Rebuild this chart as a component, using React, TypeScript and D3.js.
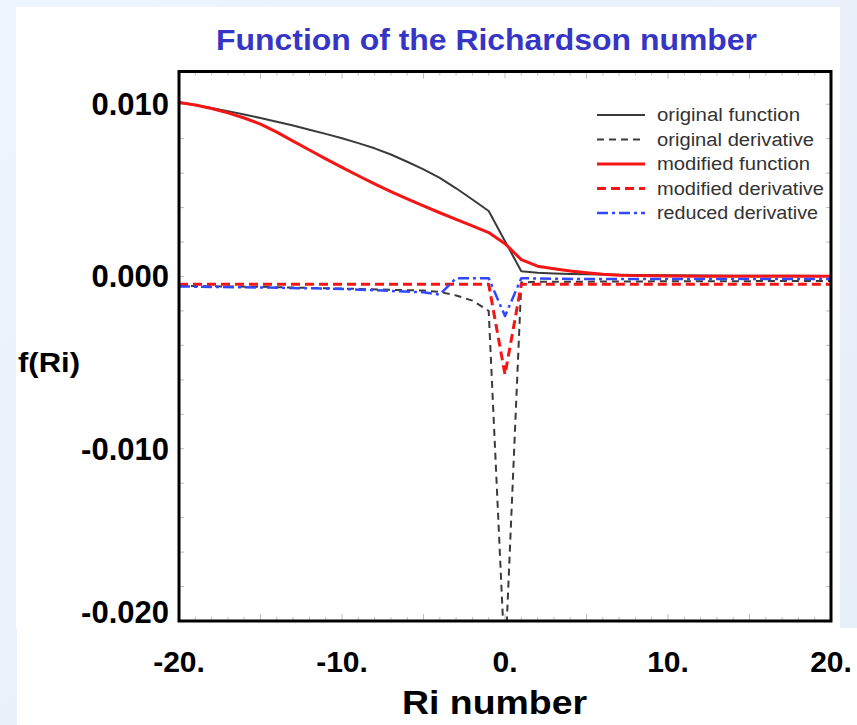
import React from 'react';
import * as d3 from 'd3';

// Richardson number sample points for the stability functions
const riFunc = [-20, -19, -18, -17, -16, -15, -14, -13, -12, -11, -10, -9, -8, -7, -6, -5, -4, -3, -2, -1, 0, 1, 2, 3, 4, 5, 6, 7, 8, 10, 12, 14, 16, 18, 20];
const originalFunction = [0.01012, 0.00996, 0.00978, 0.0096, 0.0094, 0.0092, 0.00898, 0.00876, 0.00852, 0.00828, 0.00802, 0.00774, 0.00744, 0.00708, 0.00666, 0.00622, 0.00572, 0.00512, 0.00447, 0.0038, 0.00205, 0.0003, 0.00022, 0.00018, 0.00015, 0.00013, 0.00011, 0.0001, 0.00009, 0.00007, 0.00006, 0.00005, 0.00004, 0.00004, 0.00003];
const modifiedFunction = [0.0101, 0.00995, 0.00975, 0.0095, 0.0092, 0.00885, 0.00838, 0.00786, 0.00734, 0.00683, 0.00633, 0.00585, 0.00538, 0.00493, 0.0045, 0.0041, 0.0037, 0.00332, 0.00294, 0.00255, 0.0019, 0.00098, 0.0006, 0.00045, 0.00032, 0.00022, 0.00013, 0.00007, 0.00005, 0.00003, 0.00002, 0.00002, 0.00001, 0.00001, 0.00001];

// Richardson number sample points for the derivatives
const riDeriv = [-20, -15, -10, -5, -4, -3, -2, -1, 0, 1, 2, 5, 10, 15, 20];
const originalDerivative = [-0.00055, -0.0006, -0.0007, -0.00082, -0.0009, -0.0011, -0.0014, -0.002, -0.0225, -0.00035, -0.0003, -0.0003, -0.00028, -0.00027, -0.00026];
const modifiedDerivative = [-0.00045, -0.00045, -0.00045, -0.00045, -0.00045, -0.00045, -0.00045, -0.00045, -0.0057, -0.00045, -0.00045, -0.00045, -0.00045, -0.00045, -0.00045];
const reducedDerivative = [-0.00058, -0.00064, -0.00072, -0.00092, -0.00105, -0.0001, -0.0001, -0.0001, -0.0023, -0.0001, -0.00012, -0.00015, -0.00015, -0.00015, -0.00015];

const xTicks = [-20, -10, 0, 10, 20];
const xTickLabels = ['-20.', '-10.', '0.', '10.', '20.'];
const yTicks = [0.01, 0, -0.01, -0.02];
const yTickLabels = ['0.010', '0.000', '-0.010', '-0.020'];

const legendLabels = ['original function', 'original derivative', 'modified function', 'modified derivative', 'reduced derivative'];
const legendWidths = [143, 157, 153, 167, 161];

const FONT = '"Liberation Sans", Arial, Helvetica, sans-serif';

export default function App() {
  const x = d3.scaleLinear().domain([-20, 20]).range([179, 831]);
  const y = d3.scaleLinear().domain([-0.02, 0.0119]).range([621, 71.5]);

  const path = (xs: number[], ys: number[]) =>
    d3.line<number>().x((_, i) => x(xs[i])).y((d) => y(d))(ys) || '';

  const styles = [
    { xs: riFunc, ys: originalFunction, stroke: '#3a3a3a', width: 2, dash: undefined as string | undefined },
    { xs: riDeriv, ys: originalDerivative, stroke: '#3a3a3a', width: 2, dash: '7 5' },
    { xs: riFunc, ys: modifiedFunction, stroke: '#f51515', width: 3, dash: undefined },
    { xs: riDeriv, ys: modifiedDerivative, stroke: '#f51515', width: 3, dash: '9 5' },
    { xs: riDeriv, ys: reducedDerivative, stroke: '#3048ff', width: 2.5, dash: '11 4 3 4' },
  ];

  const minorX = d3.range(-20, 21, 1);
  const minorY = d3.range(-0.02, 0.0119, 0.002);
  const [x0, x1] = x.range();
  const [yb, yt] = y.range();

  return (
    <svg width={857} height={725} style={{ position: 'absolute', left: 0, top: 0, display: 'block' }} fontFamily={FONT}>
      <defs>
        <linearGradient id="bg" x1="0" y1="0" x2="1" y2="1">
          <stop offset="0" stopColor="#eef4fd" />
          <stop offset="1" stopColor="#e6eefa" />
        </linearGradient>
        <clipPath id="plot">
          <rect x={x0} y={yt} width={x1 - x0} height={yb - yt} />
        </clipPath>
      </defs>
      <rect x={0} y={0} width={857} height={725} fill="url(#bg)" />
      <rect x={16} y={7} width={824} height={621} fill="#ffffff" />
      <rect x={17} y={628} width={840} height={97} fill="#ffffff" />

      <text x={486.5} y={50} textAnchor="middle" fontSize={30} fontWeight="bold" fill="#3535c6"
        textLength={541} lengthAdjust="spacingAndGlyphs">Function of the Richardson number</text>

      {/* inner tick marks */}
      <g stroke="#bdbdbd" strokeWidth={1}>
        {minorX.map((v) => {
          const len = v % 5 === 0 ? 6 : 3;
          return (
            <g key={'mx' + v}>
              <line x1={x(v)} x2={x(v)} y1={yt + 1} y2={yt + 1 + len} />
              <line x1={x(v)} x2={x(v)} y1={yb - 1} y2={yb - 1 - len} />
            </g>
          );
        })}
        {minorY.map((v, i) => (
          <g key={'my' + i}>
            <line x1={x0 + 1} x2={x0 + 5} y1={y(v)} y2={y(v)} />
            <line x1={x1 - 1} x2={x1 - 5} y1={y(v)} y2={y(v)} />
          </g>
        ))}
      </g>

      <g clipPath="url(#plot)" fill="none" strokeLinejoin="round">
        {styles.map((s, i) => (
          <path key={i} d={path(s.xs, s.ys)} stroke={s.stroke} strokeWidth={s.width} strokeDasharray={s.dash} />
        ))}
      </g>

      {/* legend */}
      <g>
        {legendLabels.map((lab, i) => {
          const cy = 115 + i * 24.5;
          const s = styles[i];
          return (
            <g key={lab}>
              <line x1={597} x2={645} y1={cy} y2={cy} stroke={s.stroke} strokeWidth={s.width} strokeDasharray={s.dash} />
              <text x={657} y={cy + 6} fontSize={18} fill="#333" textLength={legendWidths[i]} lengthAdjust="spacingAndGlyphs">{lab}</text>
            </g>
          );
        })}
      </g>

      <rect x={x0} y={yt} width={x1 - x0} height={yb - yt} fill="none" stroke="#000" strokeWidth={3} />

      {yTicks.map((v, i) => (
        <text key={'yl' + v} x={169} y={Math.min(y(v) + 11, 623)} textAnchor="end" fontSize={31} fontWeight="bold" fill="#000">
          {yTickLabels[i]}
        </text>
      ))}
      {xTicks.map((v, i) => (
        <text key={'xl' + v} x={x(v)} y={672} textAnchor="middle" fontSize={30} fontWeight="bold" fill="#000">
          {xTickLabels[i]}
        </text>
      ))}

      <text x={18} y={372} fontSize={28} fontWeight="bold" fill="#000" textLength={62} lengthAdjust="spacingAndGlyphs">f(Ri)</text>
      <text x={494.5} y={714} textAnchor="middle" fontSize={33} fontWeight="bold" fill="#000"
        textLength={185} lengthAdjust="spacingAndGlyphs">Ri number</text>
    </svg>
  );
}
